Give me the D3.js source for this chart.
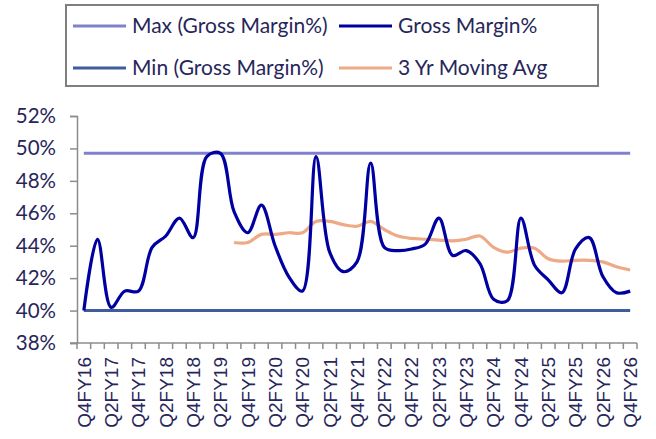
<!DOCTYPE html>
<html>
<head>
<meta charset="utf-8">
<script src="https://cdn.jsdelivr.net/npm/d3@7"></script>
<style>
  body { margin: 0; background: #fff; }
  svg { display: block; }
</style>
</head>
<body>
<div id="chart"></div>
<script>
// quarters Q4FY16 .. Q4FY26
var quarters = [
  "Q4FY16",
  "Q1FY17", "Q2FY17", "Q3FY17", "Q4FY17",
  "Q1FY18", "Q2FY18", "Q3FY18", "Q4FY18",
  "Q1FY19", "Q2FY19", "Q3FY19", "Q4FY19",
  "Q1FY20", "Q2FY20", "Q3FY20", "Q4FY20",
  "Q1FY21", "Q2FY21", "Q3FY21", "Q4FY21",
  "Q1FY22", "Q2FY22", "Q3FY22", "Q4FY22",
  "Q1FY23", "Q2FY23", "Q3FY23", "Q4FY23",
  "Q1FY24", "Q2FY24", "Q3FY24", "Q4FY24",
  "Q1FY25", "Q2FY25", "Q3FY25", "Q4FY25",
  "Q1FY26", "Q2FY26", "Q3FY26", "Q4FY26"
];

var grossMargin = [
  40.0,
  44.4, 40.2, 41.2, 41.2,
  43.9, 44.6, 45.7, 44.5,
  49.5, 49.7, 46.1, 44.8,
  46.5, 44.0, 42.1, 41.2,
  49.5, 43.6, 42.4, 43.0,
  49.1, 43.9, 43.7, 43.8,
  44.1, 45.7, 43.4, 43.7,
  42.9, 40.7, 40.6, 45.7,
  42.8, 41.9, 41.1, 43.8,
  44.5, 42.1, 41.1, 41.2
];

// 3 yr moving average, first value at Q3FY19
var movingAvg = [
  null, null, null, null, null, null, null, null, null, null, null,
  44.2, 44.2,
  44.7, 44.7, 44.8, 44.8,
  45.5, 45.5, 45.3, 45.2,
  45.5, 45.0, 44.6, 44.45,
  44.4, 44.35, 44.3, 44.4,
  44.6, 43.9, 43.6, 43.85,
  43.85, 43.2, 43.05, 43.1,
  43.1, 43.0, 42.7, 42.5
];

var yTicks = [38, 40, 42, 44, 46, 48, 50, 52];

var maxGM = d3.max(grossMargin),
  minGM = d3.min(grossMargin);

var width = 656,
  height = 439;
var margin = {left: 77, right: 19, top: 116, bottom: 96};

var textColor = "#27265a";
var axisColor = "#8c8c8c";

var svg = d3.select("#chart").append("svg")
  .attr("width", width)
  .attr("height", height);

var x = d3.scaleBand()
  .domain(quarters)
  .range([margin.left, width - margin.right])
  .paddingInner(0)
  .paddingOuter(0);

var y = d3.scaleLinear()
  .domain([38, 52])
  .range([height - margin.bottom, margin.top]);

function cx(d) { return x(d) + x.bandwidth() / 2; }

// y axis
var yAxis = svg.append("g")
  .attr("transform", "translate(" + margin.left + ",0)")
  .call(d3.axisLeft(y).tickValues(yTicks).tickSize(7).tickPadding(14)
    .tickFormat(function(d) { return d + "%"; }));
yAxis.select(".domain").attr("stroke", axisColor).attr("stroke-width", 1.5);
yAxis.selectAll(".tick line").attr("stroke", axisColor).attr("stroke-width", 1.5);
yAxis.selectAll("text")
  .style("font-family", "Lato, sans-serif")
  .style("font-size", "20.5px")
  .attr("fill", textColor);

// x axis, ticks between categories
var xBase = height - margin.bottom;
var xg = svg.append("g");
xg.append("line")
  .attr("x1", margin.left - 7).attr("x2", width - margin.right)
  .attr("y1", xBase).attr("y2", xBase)
  .attr("stroke", axisColor).attr("stroke-width", 1.5);
var boundaries = quarters.map(function(q) { return x(q); }).concat([x.range()[1]]);
xg.selectAll(".xtick")
  .data(boundaries)
  .enter().append("line")
  .attr("class", "xtick")
  .attr("x1", function(d) { return d; }).attr("x2", function(d) { return d; })
  .attr("y1", xBase).attr("y2", xBase + 6)
  .attr("stroke", axisColor).attr("stroke-width", 1.5);
xg.selectAll(".xlabel")
  .data(quarters.filter(function(q, i) { return i % 2 == 0; }))
  .enter().append("text")
  .attr("class", "xlabel")
  .attr("transform", function(d) {
    return "translate(" + cx(d) + "," + (xBase + 14) + ") rotate(-90)";
  })
  .attr("dy", "0.36em")
  .style("text-anchor", "end")
  .style("font-family", "'Liberation Sans', Arial, sans-serif")
  .style("font-size", "19px")
  .attr("fill", textColor)
  .text(function(d) { return d; });

// series
var line = d3.line()
  .defined(function(d) { return d.v != null; })
  .x(function(d) { return cx(d.q); })
  .y(function(d) { return y(d.v); })
  .curve(d3.curveCatmullRom.alpha(0.5));

var flat = d3.line()
  .x(function(d) { return cx(d.q); })
  .y(function(d) { return y(d.v); });

function pairs(arr) {
  return quarters.map(function(q, i) { return {q: q, v: arr[i]}; });
}

var series = [
  {name: "Max (Gross Margin%)", data: pairs(quarters.map(function() { return maxGM; })), color: "#8080cf", w: 3, gen: flat},
  {name: "Min (Gross Margin%)", data: pairs(quarters.map(function() { return minGM; })), color: "#3e5c9e", w: 3, gen: flat},
  {name: "3 Yr Moving Avg", data: pairs(movingAvg), color: "#eeaa86", w: 3.2, gen: line},
  {name: "Gross Margin%", data: pairs(grossMargin), color: "#0000a2", w: 3.2, gen: line}
];

svg.append("g").selectAll("path")
  .data(series)
  .enter().append("path")
  .attr("fill", "none")
  .attr("stroke", function(d) { return d.color; })
  .attr("stroke-width", function(d) { return d.w; })
  .attr("d", function(d) { return d.gen(d.data); });

// legend
var legend = svg.append("g");
legend.append("rect")
  .attr("x", 66).attr("y", 5)
  .attr("width", 532).attr("height", 81)
  .attr("fill", "#fff")
  .attr("stroke", "#7f7f7f")
  .attr("stroke-width", 2);

var legendItems = [
  {s: series[0], col: 0, row: 0},
  {s: series[3], col: 1, row: 0},
  {s: series[1], col: 0, row: 1},
  {s: series[2], col: 1, row: 1}
];
var colX = [73, 339], rowY = [26, 68];

var li = legend.selectAll(".item")
  .data(legendItems)
  .enter().append("g")
  .attr("class", "item")
  .attr("transform", function(d) { return "translate(" + colX[d.col] + "," + rowY[d.row] + ")"; });
li.append("line")
  .attr("x1", 0).attr("x2", 53)
  .attr("stroke", function(d) { return d.s.color; })
  .attr("stroke-width", function(d) { return d.s.w; });
li.append("text")
  .attr("x", 59)
  .attr("dy", "0.35em")
  .style("font-family", "Lato, sans-serif")
  .style("font-size", "21px")
  .attr("fill", textColor)
  .text(function(d) { return d.s.name; });
</script>
</body>
</html>
